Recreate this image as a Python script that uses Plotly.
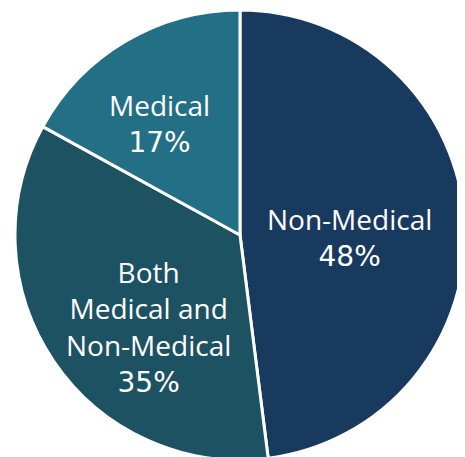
import plotly.graph_objects as go

categories = ["Non-Medical", "Both<br>Medical and<br>Non-Medical", "Medical"]
values = [48, 35, 17]
colors = ["#173A5E", "#1D5263", "#237086"]

W, H = 465, 457
# label anchor points (pixel positions of label centres within the figure)
label_px = [(341, 228), (140.5, 318), (151, 114)]

fig = go.Figure(go.Pie(
    labels=categories,
    values=values,
    sort=False,
    direction="clockwise",
    rotation=0,
    marker=dict(colors=colors, line=dict(color="white", width=3)),
    textinfo="none",
    hoverinfo="label+percent",
    showlegend=False,
    domain=dict(x=[7/W, 457/W], y=[1 - 452/H, 1 - 2/H]),
))

total = sum(values)
for cat, val, (px, py) in zip(categories, values, label_px):
    pct = round(100 * val / total)
    fig.add_annotation(
        x=px / W, y=1 - py / H, xref="paper", yref="paper",
        xanchor="center", yanchor="middle",
        text=f"{cat}<br><span style='font-family:DejaVu Sans'>{pct}%</span>",
        showarrow=False,
        align="center",
        font=dict(family="Open Sans, Liberation Sans, Arial, sans-serif", size=28, color="white"),
    )

fig.update_layout(
    width=W, height=H,
    margin=dict(l=0, r=0, t=0, b=0),
    paper_bgcolor="white",
    plot_bgcolor="white",
)

fig.write_html("out.html")
